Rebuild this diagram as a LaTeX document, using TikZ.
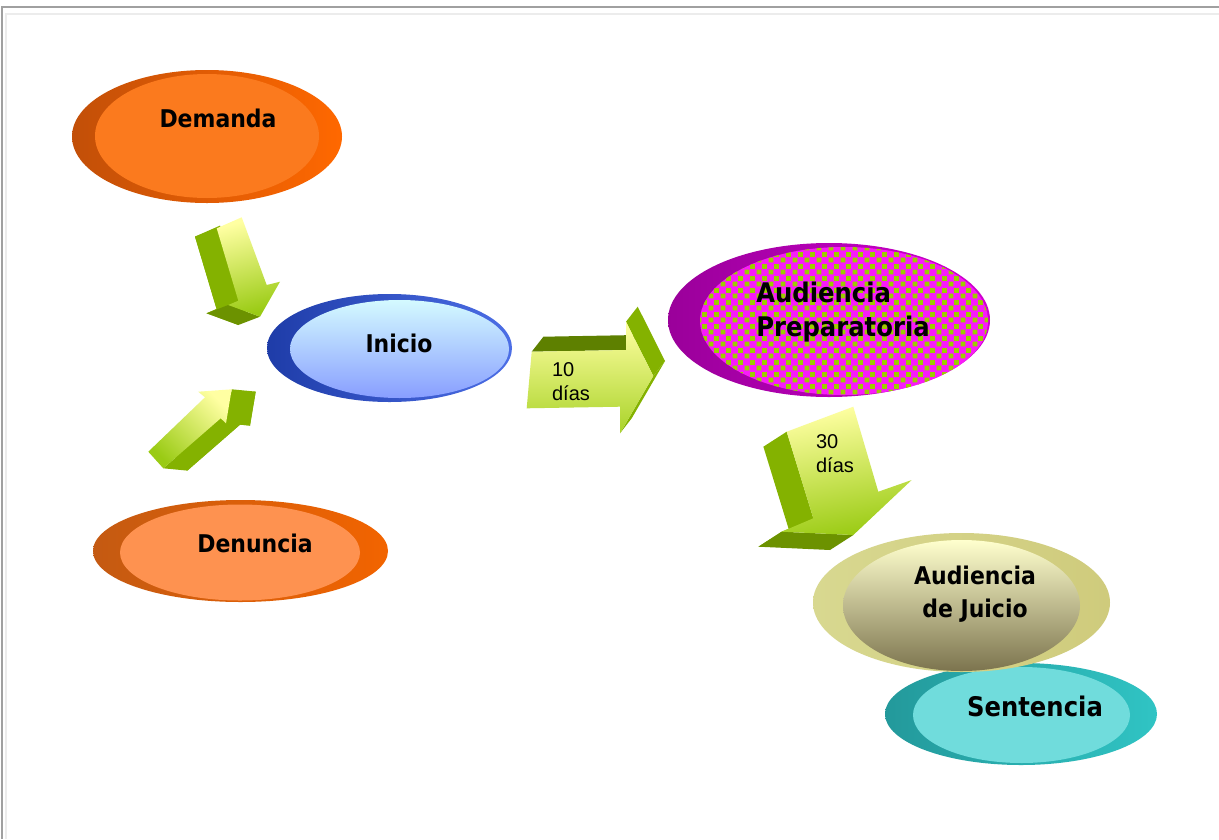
\documentclass[tikz,border=0pt]{standalone}
\usepackage{fontspec}
\setmainfont{DejaVu Sans}
\newfontfamily\lblfont[FakeStretch=0.9]{DejaVu Sans}
\newfontfamily\arialfont{Liberation Sans}
\usetikzlibrary{calc,patterns.meta}

\definecolor{frameA}{HTML}{A0A0A0}
\definecolor{frameB}{HTML}{ECECEC}
\definecolor{demOutL}{HTML}{C24F08}
\definecolor{demOutR}{HTML}{FF6800}
\definecolor{demIn}{HTML}{FB7A1E}
\definecolor{denOutL}{HTML}{C45A12}
\definecolor{denOutR}{HTML}{F26400}
\definecolor{denIn}{HTML}{FE9250}
\definecolor{iniOutL}{HTML}{1E3CA8}
\definecolor{iniOutR}{HTML}{4C6EE6}
\definecolor{iniInT}{HTML}{D4FAFF}
\definecolor{iniInB}{HTML}{889EFF}
\definecolor{preOutL}{HTML}{9A009A}
\definecolor{preOutR}{HTML}{D000D0}
\definecolor{preGreen}{HTML}{9CCC00}
\definecolor{preMag}{HTML}{F81CF8}
\definecolor{juiOutL}{HTML}{D8D890}
\definecolor{juiOutR}{HTML}{CFCB7C}
\definecolor{juiInT}{HTML}{FFFFCE}
\definecolor{juiInB}{HTML}{7C744E}
\definecolor{senOutL}{HTML}{23999B}
\definecolor{senOutR}{HTML}{30C4C4}
\definecolor{senIn}{HTML}{70DCDC}
\definecolor{arLight}{HTML}{FFFFA2}
\definecolor{arGreen}{HTML}{9ACB14}
\definecolor{arSide}{HTML}{84B200}
\definecolor{arUnder}{HTML}{6C9200}
\definecolor{arTop}{HTML}{5E8000}

\tikzdeclarepattern{
  name=greensq, type=uncolored,
  bottom left={(0pt,0pt)}, top right={(12pt,12pt)}, tile size={(12pt,12pt)},
  code={\pgfpathrectangle{\pgfpoint{0.6pt}{0.6pt}}{\pgfpoint{5.2pt}{5.2pt}}
        \pgfpathrectangle{\pgfpoint{6.6pt}{6.6pt}}{\pgfpoint{5.2pt}{5.2pt}}
        \pgfusepath{fill}}
}

\tikzset{
  lbl/.style={font=\lblfont\fontsize{24.4}{33}\selectfont\bfseries, text=black, inner sep=0pt, align=center},
  lblbig/.style={font=\lblfont\fontsize{27}{34}\selectfont\bfseries, text=black, inner sep=0pt},
  small/.style={font=\arialfont\fontsize{20}{23.5}\selectfont, text=black, inner sep=0pt, align=left},
  side/.style={fill=arSide},
  under/.style={fill=arUnder},
  topface/.style={fill=arTop},
}

\begin{document}
\begin{tikzpicture}[x=1pt,y=-1pt]
\useasboundingbox (0,0) rectangle (1219,839);
\fill[white] (0,0) rectangle (1219,839);
% frame
\draw[frameA, line width=1.5] (2,839) -- (2,7) -- (1219,7);
\draw[frameB, line width=2] (6,839) -- (6,14) -- (1219,14);

% Demanda
\shade[left color=demOutL, right color=demOutR] (207,136.5) ellipse [x radius=135, y radius=66.5];
\fill[demIn] (207,136) ellipse [x radius=112, y radius=62];
\node[lbl] (demanda) at (218,118) {Demanda};

% Denuncia
\shade[left color=denOutL, right color=denOutR] (240.5,551) ellipse [x radius=147.5, y radius=51];
\fill[denIn] (240,552.5) ellipse [x radius=120, y radius=48];
\node[lbl] (denuncia) at (255,543) {Denuncia};

% Inicio
\shade[left color=iniOutL, right color=iniOutR] (389.5,348) ellipse [x radius=122.5, y radius=54];
\shade[top color=iniInT, bottom color=iniInB] (399.5,349) ellipse [x radius=109.5, y radius=49];
\node[lbl] (inicio) at (399,343) {Inicio};

% Audiencia Preparatoria
\shade[left color=preOutL, right color=preOutR] (829,320) ellipse [x radius=161, y radius=77];
\fill[preMag] (844,321) ellipse [x radius=144, y radius=74];
\fill[pattern=greensq, pattern color=preGreen] (844,321) ellipse [x radius=144, y radius=74];
\node[lblbig, align=left] (prep) at (843,312) {Audiencia\\Preparatoria};

% Sentencia
\shade[left color=senOutL, right color=senOutR] (1021,714) ellipse [x radius=136, y radius=51];
\fill[senIn] (1021.5,715) ellipse [x radius=108.5, y radius=48];
\node[lblbig] (sentencia) at (1035,706) {Sentencia};

% Audiencia de Juicio
\shade[left color=juiOutL, right color=juiOutR] (961.5,602.5) ellipse [x radius=148.5, y radius=69.5];
\shade[top color=juiInT, bottom color=juiInB] (961.5,605.5) ellipse [x radius=118.5, y radius=65.5];
\node[lbl] (juicio) at (975,594.5) {Audiencia\\de Juicio};

% ---------- Arrow 1 (Demanda -> Inicio)
\coordinate (a1) at (216.7,228.3); \coordinate (a2) at (241.7,217.3);
\coordinate (a3) at (266.7,285);   \coordinate (a4) at (280,281.7);
\coordinate (a5) at (260,316.7);   \coordinate (a6) at (228.3,305);
\coordinate (a7) at (238.3,300.7);
\foreach \p in {1,...,7} {\coordinate (a\p s) at ($(a\p)+(-21.7,8.3)$);}
\fill[side] (a1s) -- (a2s) -- (a3s) -- (a4s) -- (a5s) -- (a6s) -- (a7s) -- cycle;
\fill[side] (a1) -- (a1s) -- (a7s) -- (a7) -- cycle;
\fill[side] (a7) -- (a7s) -- (a6s) -- (a6) -- cycle;
\fill[under] (a6) -- (a6s) -- (a5s) -- (a5) -- cycle;
\shade[top color=arLight, bottom color=arGreen, shading angle=15] (a1) -- (a2) -- (a3) -- (a4) -- (a5) -- (a6) -- (a7) -- cycle;

% ---------- Arrow 2 (Denuncia -> Inicio)
\coordinate (b1) at (148.3,451.7); \coordinate (b2) at (205,397.3);
\coordinate (b3) at (198.3,391.7); \coordinate (b4) at (231.7,389.3);
\coordinate (b5) at (226,423.3);   \coordinate (b6) at (220.7,418.3);
\coordinate (b7) at (163.3,468.3);
\foreach \p in {1,...,7} {\coordinate (b\p s) at ($(b\p)+(24,2.3)$);}
\fill[side] (b1s) -- (b2s) -- (b3s) -- (b4s) -- (b5s) -- (b6s) -- (b7s) -- cycle;
\fill[side] (b6) -- (b6s) -- (b7s) -- (b7) -- cycle;
\fill[side] (b5) -- (b5s) -- (b6s) -- (b6) -- cycle;
\fill[side] (b4) -- (b4s) -- (b5s) -- (b5) -- cycle;
\shade[top color=arLight, bottom color=arGreen, shading angle=-45] (b1) -- (b2) -- (b3) -- (b4) -- (b5) -- (b6) -- (b7) -- cycle;

% ---------- Arrow 3 (Inicio -> Preparatoria)
\coordinate (c1) at (531.7,351.7); \coordinate (c2) at (626,350);
\coordinate (c3) at (626,321.7);   \coordinate (c4) at (653.3,376);
\coordinate (c5) at (620,433.3);   \coordinate (c6) at (620,406.7);
\coordinate (c7) at (526.7,408.3);
\foreach \p in {1,...,7} {\coordinate (c\p s) at ($(c\p)+(11.7,-15)$);}
\fill[topface] (c1) -- (c1s) -- (c2s) -- (c2) -- cycle;
\fill[side] (c4) -- (c4s) -- (c5s) -- (c5) -- cycle;
\fill[side] (c3) -- (c3s) -- (c4s) -- (c4) -- cycle;
\shade[top color=arLight, bottom color=arGreen!85!arLight] (c1) -- (c2) -- (c3) -- (c4) -- (c5) -- (c6) -- (c7) -- cycle;
\node[small] (diez) at (571,381.5) {10\\días};

% ---------- Arrow 4 (Preparatoria -> Juicio)
\coordinate (g1) at (786.7,431.7); \coordinate (g2) at (853.3,406.7);
\coordinate (g3) at (878.3,491.7); \coordinate (g4) at (911.7,480);
\coordinate (g5) at (853.3,535);   \coordinate (g6) at (781.7,531.7);
\coordinate (g7) at (813.3,518.3);
\foreach \p in {1,...,7} {\coordinate (g\p s) at ($(g\p)+(-23.3,15)$);}
\fill[side] (g1) -- (g1s) -- (g7s) -- (g7) -- cycle;
\fill[side] (g7) -- (g7s) -- (g6s) -- (g6) -- cycle;
\fill[under] (g6) -- (g6s) -- (g5s) -- (g5) -- cycle;
\shade[top color=arLight, bottom color=arGreen, shading angle=10] (g1) -- (g2) -- (g3) -- (g4) -- (g5) -- (g6) -- (g7) -- cycle;
\node[small] (treinta) at (835,453.5) {30\\días};
\end{tikzpicture}
\end{document}
